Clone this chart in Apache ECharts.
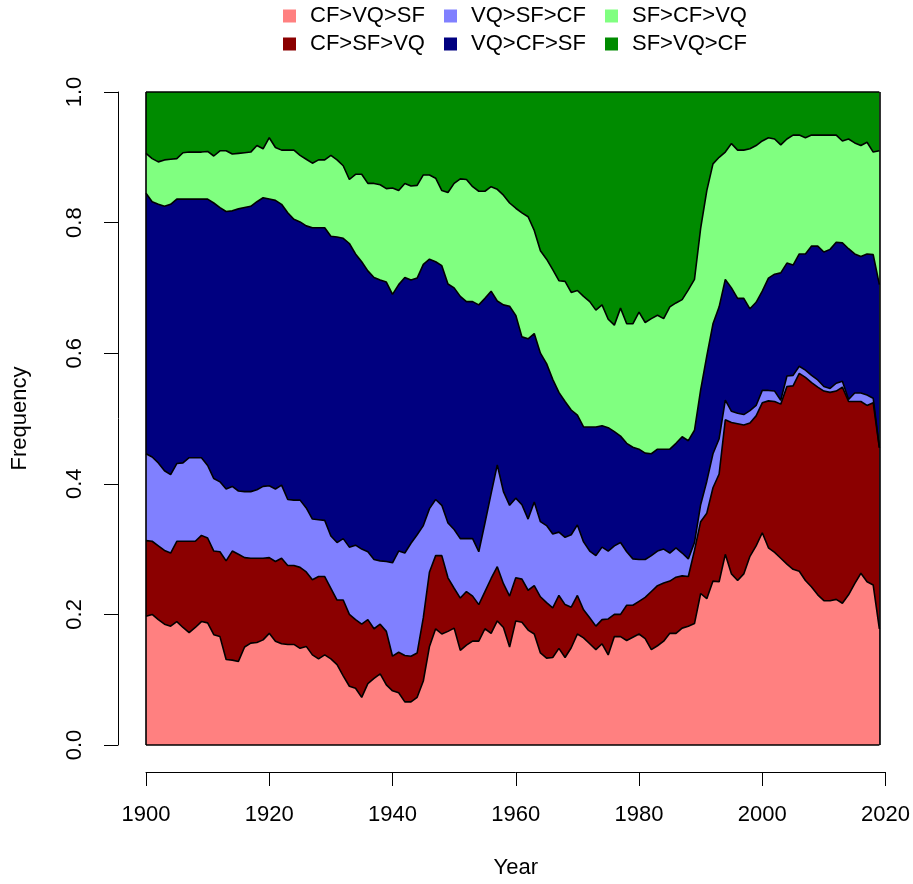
<!DOCTYPE html>
<html>
<head>
<meta charset="utf-8">
<script src="https://cdn.jsdelivr.net/npm/echarts@6/dist/echarts.min.js"></script>
<style>
html,body{margin:0;padding:0;background:#fff;}
#chart{width:913px;height:884px;}
</style>
</head>
<body>
<div id="chart"></div>
<script>
// Years 1900..2019
const firstYear = 1900;

// Upper edges of the stacked bands (cumulative frequency)
const edgeCFVQSF = [
0.197,0.200,0.192,0.185,0.182,0.189,0.180,0.172,0.180,0.189,
0.187,0.169,0.166,0.131,0.130,0.128,0.150,0.156,0.157,0.161,
0.171,0.159,0.155,0.154,0.154,0.148,0.151,0.138,0.132,0.138,
0.132,0.123,0.106,0.090,0.087,0.073,0.094,0.102,0.109,0.092,
0.083,0.080,0.066,0.066,0.073,0.098,0.151,0.178,0.170,0.174,
0.179,0.145,0.153,0.159,0.159,0.178,0.171,0.190,0.180,0.150,
0.190,0.188,0.176,0.170,0.141,0.133,0.134,0.148,0.134,0.149,
0.170,0.164,0.155,0.146,0.155,0.138,0.166,0.166,0.160,0.165,
0.170,0.163,0.146,0.152,0.159,0.171,0.171,0.179,0.182,0.186,
0.232,0.224,0.251,0.250,0.292,0.262,0.252,0.262,0.289,0.305,
0.325,0.302,0.295,0.286,0.277,0.269,0.266,0.252,0.242,0.230,
0.221,0.221,0.223,0.217,0.230,0.247,0.263,0.250,0.245,0.178];

const edgeCFSFVQ = [
0.313,0.312,0.305,0.298,0.294,0.312,0.312,0.312,0.312,0.321,
0.317,0.297,0.296,0.282,0.297,0.292,0.287,0.286,0.286,0.286,
0.287,0.281,0.286,0.275,0.275,0.272,0.265,0.253,0.258,0.258,
0.240,0.222,0.222,0.200,0.192,0.185,0.192,0.178,0.185,0.174,
0.136,0.142,0.137,0.136,0.141,0.195,0.265,0.290,0.290,0.256,
0.240,0.225,0.235,0.228,0.215,0.235,0.255,0.273,0.247,0.228,
0.256,0.254,0.237,0.244,0.227,0.218,0.210,0.229,0.215,0.211,
0.229,0.207,0.195,0.182,0.192,0.193,0.200,0.200,0.214,0.214,
0.220,0.226,0.235,0.244,0.248,0.251,0.257,0.259,0.258,0.298,
0.342,0.355,0.394,0.415,0.498,0.494,0.492,0.490,0.493,0.504,
0.524,0.527,0.526,0.522,0.549,0.550,0.569,0.563,0.555,0.548,
0.542,0.540,0.542,0.548,0.526,0.526,0.526,0.520,0.524,0.455];

const edgeVQSFCF = [
0.446,0.441,0.432,0.420,0.414,0.431,0.432,0.440,0.440,0.440,
0.428,0.408,0.403,0.392,0.396,0.389,0.388,0.388,0.391,0.396,
0.397,0.392,0.398,0.376,0.375,0.375,0.363,0.346,0.345,0.344,
0.320,0.310,0.316,0.303,0.306,0.300,0.296,0.284,0.282,0.281,
0.279,0.297,0.294,0.309,0.322,0.336,0.362,0.376,0.367,0.340,
0.330,0.316,0.316,0.316,0.296,0.340,0.385,0.429,0.388,0.367,
0.378,0.368,0.346,0.372,0.342,0.336,0.323,0.326,0.318,0.322,
0.337,0.311,0.297,0.290,0.303,0.297,0.305,0.310,0.296,0.285,
0.284,0.284,0.290,0.297,0.300,0.294,0.302,0.294,0.285,0.310,
0.368,0.404,0.446,0.469,0.528,0.511,0.508,0.506,0.512,0.520,
0.543,0.543,0.542,0.528,0.565,0.566,0.580,0.574,0.566,0.559,
0.549,0.546,0.554,0.557,0.529,0.539,0.539,0.536,0.531,0.456];

const edgeVQCFSF = [
0.845,0.832,0.828,0.825,0.828,0.836,0.836,0.836,0.836,0.836,
0.836,0.830,0.823,0.817,0.818,0.821,0.823,0.825,0.832,0.838,
0.836,0.834,0.828,0.815,0.805,0.801,0.795,0.792,0.792,0.792,
0.779,0.778,0.776,0.768,0.752,0.740,0.726,0.716,0.712,0.709,
0.690,0.705,0.716,0.712,0.715,0.736,0.744,0.740,0.734,0.706,
0.700,0.687,0.679,0.679,0.674,0.684,0.695,0.680,0.674,0.672,
0.658,0.625,0.622,0.630,0.600,0.584,0.560,0.540,0.526,0.513,
0.505,0.487,0.487,0.487,0.489,0.486,0.480,0.473,0.462,0.456,
0.453,0.447,0.446,0.453,0.453,0.453,0.462,0.472,0.466,0.482,
0.544,0.596,0.645,0.671,0.713,0.700,0.684,0.684,0.668,0.678,
0.695,0.715,0.721,0.723,0.738,0.735,0.752,0.752,0.764,0.764,
0.755,0.759,0.770,0.769,0.760,0.752,0.748,0.752,0.751,0.705];

const edgeSFCFVQ = [
0.906,0.898,0.893,0.896,0.897,0.898,0.907,0.908,0.908,0.908,
0.909,0.902,0.910,0.910,0.905,0.906,0.907,0.908,0.918,0.913,
0.930,0.915,0.911,0.911,0.911,0.903,0.897,0.891,0.896,0.896,
0.903,0.896,0.887,0.866,0.874,0.874,0.860,0.860,0.858,0.852,
0.853,0.849,0.860,0.856,0.857,0.873,0.873,0.868,0.849,0.846,
0.860,0.867,0.866,0.855,0.848,0.848,0.855,0.851,0.842,0.830,
0.822,0.815,0.809,0.788,0.757,0.744,0.728,0.711,0.710,0.693,
0.696,0.687,0.679,0.666,0.674,0.652,0.643,0.669,0.645,0.645,
0.663,0.647,0.653,0.658,0.653,0.671,0.677,0.682,0.697,0.713,
0.791,0.849,0.890,0.900,0.908,0.921,0.911,0.911,0.913,0.918,
0.925,0.930,0.928,0.919,0.928,0.934,0.934,0.930,0.934,0.934,
0.934,0.934,0.934,0.925,0.928,0.922,0.918,0.923,0.908,0.910];

const seriesNames = ['CF>VQ>SF','CF>SF>VQ','VQ>SF>CF','VQ>CF>SF','SF>CF>VQ','SF>VQ>CF'];
const seriesColors = ['#FF8080','#8B0000','#8080FF','#000080','#80FF80','#008B00'];
const xTicks = [1900,1920,1940,1960,1980,2000,2020];
const yTicks = [0,0.2,0.4,0.6,0.8,1.0];
const totalShare = 1; // all bands add up to 1 (top of the last band)

const years = edgeCFVQSF.map((_, i) => firstYear + i);
const y0 = years[0], y1 = years[years.length - 1];
const edges = [edgeCFVQSF, edgeCFSFVQ, edgeVQSFCF, edgeVQCFSF, edgeSFCFVQ];
const toPairs = arr => arr.map((v, i) => [years[i], v]);

const FONT = 'Liberation Sans, Arial, Helvetica, sans-serif';
const EDGE = { color: '#000', width: 1.6 };

// Top band (SF>VQ>CF): fills from the lower bands up to the total of 1
const topBand = {
  name: seriesNames[5], type: 'line', data: [], z: 1, silent: true,
  color: seriesColors[5], itemStyle: { color: seriesColors[5] },
  symbol: 'none',
  markArea: {
    silent: true,
    itemStyle: { color: seriesColors[5], opacity: 1, borderWidth: 0 },
    data: [[{ coord: [y0, 0] }, { coord: [y1, totalShare] }]]
  }
};

// Other bands: each drawn as area from 0 to its upper edge, top band first
const bandSeries = [];
for (let k = edges.length - 1; k >= 0; k--) {
  bandSeries.push({
    name: seriesNames[k], type: 'line', data: toPairs(edges[k]), z: 2,
    silent: true, symbol: 'none', showSymbol: false,
    color: seriesColors[k], itemStyle: { color: seriesColors[k] },
    lineStyle: EDGE,
    areaStyle: { color: seriesColors[k], opacity: 1, origin: 'start' }
  });
}

// Outline of the whole stacked polygon
const frame = {
  name: 'frame', type: 'line', data: [], z: 5, silent: true, symbol: 'none',
  markLine: {
    silent: true, symbol: 'none', label: { show: false },
    lineStyle: { color: '#000', width: 1.6, type: 'solid' },
    data: [
      [{ coord: [y0, 0] }, { coord: [y1, 0] }],
      [{ coord: [y0, totalShare] }, { coord: [y1, totalShare] }],
      [{ coord: [y0, 0] }, { coord: [y0, totalShare] }],
      [{ coord: [y1, 0] }, { coord: [y1, totalShare] }]
    ]
  }
};

const legendBase = {
  orient: 'vertical', top: 5, padding: 0, itemGap: 6,
  icon: 'rect', itemWidth: 13, itemHeight: 13,
  itemStyle: { borderWidth: 0 },
  textStyle: { fontFamily: FONT, fontSize: 22, color: '#000', padding: [0,0,0,9], lineHeight: 22 },
  selectedMode: false
};

const chart = echarts.init(document.getElementById('chart'), null, { renderer: 'canvas' });
chart.setOption({
  animation: false,
  backgroundColor: '#fff',
  textStyle: { fontFamily: FONT },
  legend: [
    Object.assign({}, legendBase, { left: 283, data: [seriesNames[0], seriesNames[1]] }),
    Object.assign({}, legendBase, { left: 444, data: [seriesNames[2], seriesNames[3]] }),
    Object.assign({}, legendBase, { left: 605, data: [seriesNames[4], seriesNames[5]] })
  ],
  grid: { left: 146, right: 26, top: 92, bottom: 136, containLabel: false },
  xAxis: {
    type: 'value', min: xTicks[0], max: xTicks[xTicks.length-1], interval: 20,
    offset: 27,
    axisLine: { show: true, onZero: false, lineStyle: { color: '#000', width: 1 } },
    axisTick: { show: true, length: 14, lineStyle: { color: '#000', width: 1 } },
    axisLabel: { color: '#000', fontSize: 22, fontFamily: FONT, margin: 32, formatter: v => String(v) },
    splitLine: { show: false },
    name: 'Year', nameLocation: 'middle', nameGap: 85,
    nameTextStyle: { color: '#000', fontSize: 22, fontFamily: FONT }
  },
  yAxis: {
    type: 'value', min: yTicks[0], max: yTicks[yTicks.length-1], interval: 0.2,
    offset: 28,
    axisLine: { show: true, onZero: false, lineStyle: { color: '#000', width: 1 } },
    axisTick: { show: true, length: 14, lineStyle: { color: '#000', width: 1 } },
    axisLabel: { color: '#000', fontSize: 22, fontFamily: FONT, margin: 32, rotate: 90,
                 formatter: v => v.toFixed(1) },
    splitLine: { show: false },
    name: 'Frequency', nameLocation: 'middle', nameGap: 87,
    nameTextStyle: { color: '#000', fontSize: 22, fontFamily: FONT }
  },
  series: [topBand].concat(bandSeries, [frame])
});
</script>
</body>
</html>
